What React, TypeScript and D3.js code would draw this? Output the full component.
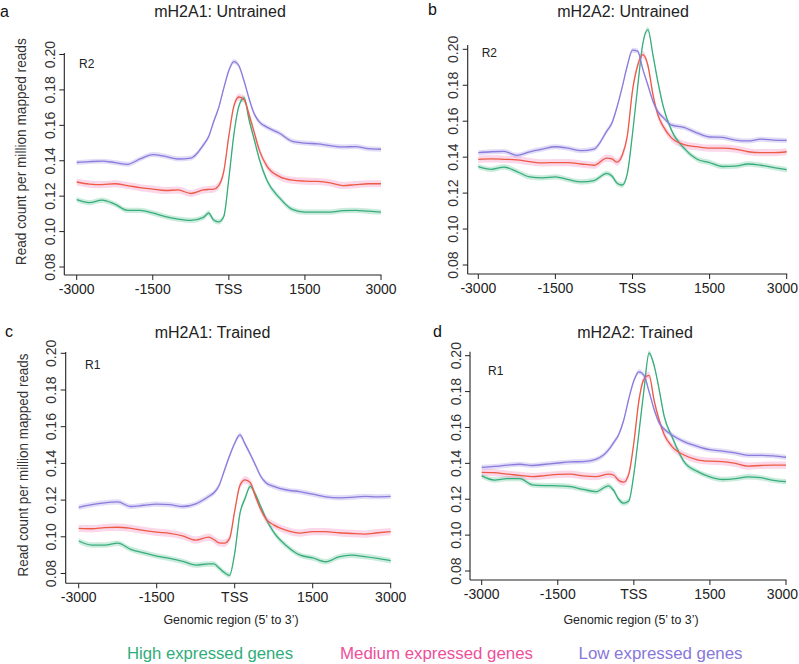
import React from "react";
import * as d3 from "d3";

// ---------- data ----------
const positions = [-3000, -2750, -2500, -2250, -2000, -1750, -1500, -1250, -1000, -750, -500, -400, -300, -200, -100, 0, 100, 200, 300, 400, 500, 600, 750, 1000, 1250, 1500, 1750, 2000, 2250, 2500, 2750, 3000];

const xTickValues = [-3000, -1500, 0, 1500, 3000];
const xTickLabels = ["-3000", "-1500", "TSS", "1500", "3000"];
const yTickValues = [0.08, 0.1, 0.12, 0.14, 0.16, 0.18, 0.2];
const yTickLabels = ["0.08", "0.10", "0.12", "0.14", "0.16", "0.18", "0.20"];

const seriesNames = ["High expressed genes", "Medium expressed genes", "Low expressed genes"];
const panelTitles = ["mH2A1: Untrained", "mH2A2: Untrained", "mH2A1: Trained", "mH2A2: Trained"];
const panelLetters = ["a", "b", "c", "d"];
const replicateLabels = ["R2", "R2", "R1", "R1"];
const yAxisTitle = "Read count per million mapped reads";
const xAxisTitle = "Genomic region (5\u2019 to 3\u2019)";

// panel a: mH2A1 untrained
const highA = [0.118, 0.1163, 0.1178, 0.1155, 0.112, 0.112, 0.1105, 0.1085, 0.107, 0.1063, 0.108, 0.1105, 0.1065, 0.1055, 0.1085, 0.13, 0.155, 0.171, 0.1755, 0.163, 0.152, 0.141, 0.129, 0.119, 0.1125, 0.111, 0.111, 0.111, 0.1118, 0.112, 0.1115, 0.111];
const mediumA = [0.128, 0.1268, 0.1265, 0.127, 0.126, 0.1248, 0.124, 0.1232, 0.1235, 0.1215, 0.1235, 0.1238, 0.124, 0.126, 0.134, 0.154, 0.171, 0.176, 0.1745, 0.166, 0.156, 0.146, 0.137, 0.131, 0.129, 0.1285, 0.1283, 0.1275, 0.126, 0.1265, 0.127, 0.127];
const lowA = [0.139, 0.1395, 0.1398, 0.139, 0.138, 0.141, 0.1435, 0.1425, 0.141, 0.1415, 0.149, 0.1535, 0.162, 0.17, 0.181, 0.191, 0.196, 0.1935, 0.185, 0.175, 0.1665, 0.162, 0.159, 0.1555, 0.151, 0.15, 0.1495, 0.1485, 0.1478, 0.148, 0.1468, 0.1465];

// panel b: mH2A2 untrained
const highB = [0.1347, 0.1332, 0.1345, 0.132, 0.129, 0.1285, 0.129, 0.1275, 0.1262, 0.127, 0.131, 0.1295, 0.1255, 0.1245, 0.131, 0.153, 0.179, 0.203, 0.211, 0.1965, 0.181, 0.168, 0.1555, 0.145, 0.139, 0.137, 0.1348, 0.135, 0.1362, 0.1355, 0.1342, 0.133];
const mediumB = [0.1388, 0.139, 0.1388, 0.1385, 0.1375, 0.1368, 0.137, 0.137, 0.1362, 0.1355, 0.1395, 0.139, 0.1372, 0.141, 0.152, 0.177, 0.191, 0.197, 0.191, 0.1745, 0.163, 0.157, 0.151, 0.147, 0.1458, 0.145, 0.145, 0.1445, 0.143, 0.1425, 0.1425, 0.143];
const lowB = [0.1425, 0.143, 0.1432, 0.141, 0.143, 0.1445, 0.1458, 0.145, 0.1436, 0.1445, 0.1545, 0.159, 0.168, 0.179, 0.191, 0.1995, 0.199, 0.189, 0.18, 0.171, 0.165, 0.162, 0.158, 0.1565, 0.1535, 0.1512, 0.151, 0.1495, 0.149, 0.15, 0.1495, 0.1493];

// panel c: mH2A1 trained
const highC = [0.0977, 0.0955, 0.0955, 0.0965, 0.0932, 0.0913, 0.0895, 0.0882, 0.0866, 0.0846, 0.0852, 0.0852, 0.083, 0.0805, 0.079, 0.091, 0.1125, 0.121, 0.1275, 0.123, 0.1165, 0.11, 0.1025, 0.095, 0.0901, 0.0885, 0.0864, 0.089, 0.09, 0.0892, 0.0882, 0.087];
const mediumC = [0.1046, 0.1044, 0.105, 0.1052, 0.1046, 0.1035, 0.1025, 0.1019, 0.1005, 0.0982, 0.0998, 0.0985, 0.0967, 0.0965, 0.099, 0.114, 0.128, 0.131, 0.1295, 0.122, 0.115, 0.1098, 0.1065, 0.1035, 0.102, 0.1028, 0.1028, 0.1022, 0.1018, 0.1015, 0.1022, 0.1028];
const lowC = [0.116, 0.1175, 0.1185, 0.119, 0.1165, 0.1172, 0.1178, 0.1175, 0.1165, 0.118, 0.122, 0.124, 0.128, 0.136, 0.144, 0.151, 0.1555, 0.1505, 0.145, 0.139, 0.133, 0.1295, 0.1275, 0.1255, 0.1246, 0.1232, 0.1218, 0.1212, 0.1215, 0.122, 0.1218, 0.122];

// panel d: mH2A2 trained
const highD = [0.133, 0.1307, 0.1315, 0.1315, 0.128, 0.1276, 0.1275, 0.127, 0.1255, 0.1242, 0.1275, 0.125, 0.12, 0.1178, 0.119, 0.134, 0.157, 0.181, 0.2015, 0.1945, 0.181, 0.166, 0.155, 0.1405, 0.1355, 0.1325, 0.131, 0.1315, 0.1325, 0.132, 0.1305, 0.1298];
const mediumD = [0.135, 0.1348, 0.134, 0.1333, 0.1326, 0.1332, 0.1338, 0.134, 0.133, 0.1326, 0.134, 0.1335, 0.1305, 0.1295, 0.134, 0.1515, 0.175, 0.187, 0.189, 0.175, 0.164, 0.156, 0.1495, 0.1445, 0.142, 0.1412, 0.141, 0.14, 0.1385, 0.1388, 0.139, 0.139];
const lowD = [0.1378, 0.1383, 0.139, 0.1395, 0.1388, 0.1395, 0.1402, 0.1408, 0.141, 0.1422, 0.1475, 0.1515, 0.156, 0.164, 0.176, 0.186, 0.191, 0.189, 0.18, 0.17, 0.1625, 0.159, 0.1558, 0.152, 0.1495, 0.1476, 0.1468, 0.1458, 0.1445, 0.1445, 0.1442, 0.1434];

// standard-error half widths of the shaded bands (high, medium, low)
const bandHalfWidth = [0.0015, 0.002, 0.0014];

// ---------- styling / layout ----------
const lineColors = ["#38ad7c", "#ee5a44", "#8a7bdd"];
const bandColors = ["#3fb583", "#ef6cb0", "#8f80e2"];
const legendColors = ["#2fad7a", "#ee4f9a", "#8877d9"];
const FONT = "'Liberation Sans', Arial, Helvetica, sans-serif";
const RIGHT_EDGE = 798;

const panelData = [
  [highA, mediumA, lowA],
  [highB, mediumB, lowB],
  [highC, mediumC, lowC],
  [highD, mediumD, lowD],
];

const frames = [
  { axisX: 64.3, xL: 76.7, xR: 381, y20: 54.5, y08: 267, axisY: 275, boxTop: 53, titleX: 220, titleY: 17.3, letterX: 0, letterY: 16.5, repX: 79, repY: 68, yTitle: { x: 26, y: 151.7, len: 227 }, xTitle: null },
  { axisX: 467.7, xL: 478.3, xR: 786.7, y20: 49.3, y08: 265, axisY: 274, boxTop: 45, titleX: 623, titleY: 17.3, letterX: 428, letterY: 14.5, repX: 481.7, repY: 57.3, yTitle: null, xTitle: null },
  { axisX: 65.7, xL: 78.7, xR: 390.7, y20: 353.3, y08: 573.5, axisY: 583.3, boxTop: 352, titleX: 212.5, titleY: 338, letterX: 5, letterY: 336.7, repX: 85, repY: 369, yTitle: { x: 27.5, y: 465, len: 223 }, xTitle: { x: 231, y: 624 } },
  { axisX: 470, xL: 481.7, xR: 786, y20: 355.7, y08: 571, axisY: 580, boxTop: 351.7, titleX: 635, titleY: 338, letterX: 433, letterY: 336.7, repX: 488, repY: 375, yTitle: null, xTitle: { x: 631, y: 624 } },
];

const legendLayout = [
  { x: 210, w: 166 },
  { x: 436.5, w: 193 },
  { x: 660.5, w: 164 },
];

function Panel({ idx }: { idx: number }) {
  const f = frames[idx];
  const x = d3.scaleLinear().domain([-3000, 3000]).range([f.xL, f.xR]);
  const y = d3.scaleLinear().domain([0.08, 0.2]).range([f.y08, f.y20]);
  const series = panelData[idx];

  const line = d3
    .line<number>()
    .x((_, i) => x(positions[i]))
    .y((d) => y(d))
    .curve(d3.curveMonotoneX);

  const area = (hw: number) =>
    d3
      .area<number>()
      .x((_, i) => x(positions[i]))
      .y0((d) => y(d - hw))
      .y1((d) => y(d + hw))
      .curve(d3.curveMonotoneX);

  return (
    <g>
      {series.map((vals, s) => (
        <path key={"b" + s} d={area(bandHalfWidth[s])(vals) || ""} fill={bandColors[s]} fillOpacity={0.27} stroke="none" />
      ))}
      {series.map((vals, s) => (
        <path key={"l" + s} d={line(vals) || ""} fill="none" stroke={lineColors[s]} strokeWidth={1.3} />
      ))}

      <line x1={f.axisX} x2={f.axisX} y1={f.boxTop} y2={f.axisY} stroke="#222" strokeWidth={1.1} />
      <line x1={f.axisX} x2={f.xR + 0.5} y1={f.axisY} y2={f.axisY} stroke="#222" strokeWidth={1.1} />

      {yTickValues.map((v, i) => (
        <g key={"yt" + i}>
          <line x1={f.axisX - 5} x2={f.axisX} y1={y(v)} y2={y(v)} stroke="#222" strokeWidth={1} />
          <text
            transform={`translate(${f.axisX - 9.5},${y(v)}) rotate(-90)`}
            textAnchor="middle"
            fontSize={14}
            fontFamily={FONT}
            fill="#333"
          >
            {yTickLabels[i]}
          </text>
        </g>
      ))}

      {xTickValues.map((v, i) => {
        const px = x(v);
        const overflow = px + 18 > RIGHT_EDGE;
        return (
          <g key={"xt" + i}>
            <line x1={px} x2={px} y1={f.axisY} y2={f.axisY + 5} stroke="#222" strokeWidth={1} />
            <text
              x={overflow ? RIGHT_EDGE : px}
              y={f.axisY + 19}
              textAnchor={overflow ? "end" : "middle"}
              fontSize={14}
              fontFamily={FONT}
              fill="#222"
            >
              {xTickLabels[i]}
            </text>
          </g>
        );
      })}

      <text x={f.titleX} y={f.titleY} textAnchor="middle" fontSize={16} fontFamily={FONT} fill="#222">
        {panelTitles[idx]}
      </text>
      <text x={f.letterX} y={f.letterY} fontSize={16} fontFamily={FONT} fill="#111">
        {panelLetters[idx]}
      </text>
      <text x={f.repX} y={f.repY} fontSize={12} fontFamily={FONT} fill="#222">
        {replicateLabels[idx]}
      </text>

      {f.yTitle && (
        <text
          transform={`translate(${f.yTitle.x},${f.yTitle.y}) rotate(-90)`}
          textAnchor="middle"
          fontSize={14}
          fontFamily={FONT}
          fill="#333"
          textLength={f.yTitle.len}
          lengthAdjust="spacingAndGlyphs"
        >
          {yAxisTitle}
        </text>
      )}
      {f.xTitle && (
        <text
          x={f.xTitle.x}
          y={f.xTitle.y}
          textAnchor="middle"
          fontSize={12.5}
          fontFamily={FONT}
          fill="#222"
          textLength={135}
          lengthAdjust="spacingAndGlyphs"
        >
          {xAxisTitle}
        </text>
      )}
    </g>
  );
}

export default function App() {
  return (
    <svg width={799} height={664} viewBox="0 0 799 664" style={{ position: "absolute", left: 0, top: 0, background: "#fff" }}>
      <rect x={0} y={0} width={799} height={664} fill="#fff" />
      {frames.map((_, i) => (
        <Panel key={i} idx={i} />
      ))}
      {seriesNames.map((name, i) => (
        <text
          key={name}
          x={legendLayout[i].x}
          y={659}
          textAnchor="middle"
          fontSize={16}
          fontFamily={FONT}
          fill={legendColors[i]}
          textLength={legendLayout[i].w}
          lengthAdjust="spacingAndGlyphs"
        >
          {name}
        </text>
      ))}
    </svg>
  );
}
